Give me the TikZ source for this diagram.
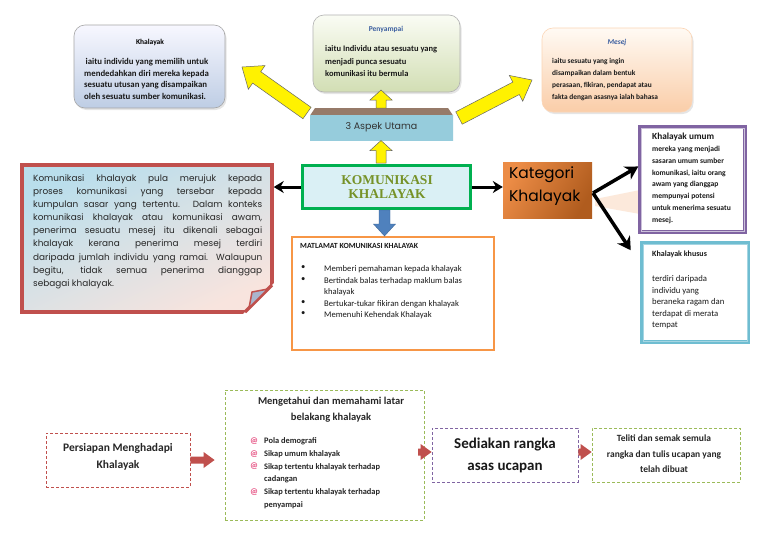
\documentclass[tikz,border=0pt]{standalone}
\usepackage{fontspec}
\setmainfont{Carlito}
\newfontfamily\gothic{Poppins}
\usetikzlibrary{calc,arrows.meta,shadows}
\definecolor{redb}{RGB}{192,80,77}
\definecolor{greenb}{RGB}{0,176,80}
\definecolor{olivet}{RGB}{118,146,40}
\definecolor{purb}{RGB}{128,100,162}
\definecolor{blueb}{RGB}{75,172,198}
\definecolor{orab}{RGB}{247,150,70}
\definecolor{bluearr}{RGB}{79,129,189}
\definecolor{titblue}{RGB}{60,95,160}
\definecolor{pinkb}{RGB}{230,80,130}
\definecolor{khbot}{RGB}{190,205,228}
\definecolor{pntop}{RGB}{250,252,244}
\definecolor{pnbot}{RGB}{210,222,180}
\definecolor{mstop}{RGB}{255,250,244}
\definecolor{msbot}{RGB}{250,205,168}
\definecolor{aspband}{RGB}{150,122,105}
\definecolor{aspblue}{RGB}{150,204,220}
\definecolor{asppeach}{RGB}{250,216,190}
\definecolor{komfill}{RGB}{218,240,245}
\definecolor{rbtop}{RGB}{185,222,236}
\definecolor{rbbot}{RGB}{248,228,222}
\definecolor{foldc}{RGB}{170,180,205}
\definecolor{katl}{RGB}{236,140,70}
\definecolor{katr}{RGB}{176,92,30}
\definecolor{beam}{RGB}{252,228,210}
\definecolor{greend}{RGB}{155,187,89}
\newcommand\fsz[2]{\fontsize{#1}{#2}\selectfont}
\newcommand\jl[1]{\makebox[229pt][s]{#1}}
% block arrow: #1 start, #2 end, #3 half shaft, #4 half head, #5 head length, #6 style
\newcommand\blockarrow[6]{%
  \coordinate (ba-h) at ($(#2)!#5!(#1)$);
  \path[#6] ($(#1)!#3!90:(#2)$) -- ($(ba-h)!#3!90:(#2)$) -- ($(ba-h)!#4!90:(#2)$) -- (#2)
    -- ($(ba-h)!#4!-90:(#2)$) -- ($(ba-h)!#3!-90:(#2)$) -- ($(#1)!#3!-90:(#2)$) -- cycle;}
\begin{document}
\begin{tikzpicture}[x=1pt,y=-1pt,
  txt/.style={inner sep=0pt, align=left, anchor=north west, text=black!90},
  tbox/.style={rounded corners=11pt, draw=#1, line width=0.6pt, inner sep=0pt,
     drop shadow={opacity=0.2,shadow xshift=1.5pt,shadow yshift=-2pt}},
  plain/.style={inner sep=0pt},
  yarr/.style={fill=yellow, draw=black!60, line width=0.5pt},
  blk/.style={line width=3pt, -{Stealth[length=10pt,width=12pt]}},
  blk2/.style={line width=3.5pt, -{Stealth[length=13pt,width=15pt]}},
  rarr/.style={fill=redb, draw=none},
  dbox/.style={draw=#1, line width=0.8pt, dash pattern=on 3pt off 2pt, inner sep=0pt},
]
\useasboundingbox (0,0) rectangle (768,544);
\fill[white] (0,0) rectangle (768,544);

% ---------- top three boxes ----------
\node[tbox=black!35, top color=blue!3, bottom color=khbot,
      minimum width=151, minimum height=83] (khbox) at (149.5,66.5) {};
\node[plain, font=\fsz{7.5}{8}\bfseries] (khtitle) at (150,42) {Khalayak};
\node[txt, font=\fsz{8.8}{11.4}\bfseries] (khbody) at (84,58.5)
  {\,iaitu individu yang memilih untuk\\mendedahkan diri mereka kepada\\sesuatu utusan yang disampaikan\\oleh sesuatu sumber komunikasi.};

\node[tbox=black!30, top color=pntop, bottom color=pnbot,
      minimum width=147, minimum height=77] (pnbox) at (386.5,53.5) {};
\node[plain, font=\fsz{7.5}{8}\bfseries, text=titblue] (pntitle) at (386,29) {Penyampai};
\node[txt, font=\fsz{8.5}{12.5}\bfseries] (pnbody) at (325,45.5)
  {iaitu Individu atau sesuatu yang\\menjadi punca sesuatu\\komunikasi itu bermula};

\node[tbox=orab!40, top color=mstop, bottom color=msbot,
      minimum width=150, minimum height=84] (msbox) at (617,70) {};
\node[plain, font=\fsz{7.5}{8}\bfseries\itshape, text=titblue] (mstitle) at (617,42) {Mesej};
\node[txt, font=\fsz{7.4}{12}\bfseries] (msbody) at (552,58)
  {iaitu sesuatu yang ingin\\disampaikan dalam bentuk\\perasaan, fikiran, pendapat atau\\fakta dengan asasnya ialah bahasa};

% ---------- 3 Aspek Utama ----------
\fill[aspband] (315,108) -- (448,108) -- (453,115.5) -- (310,115.5) -- cycle;
\node[plain, minimum width=143, minimum height=25, top color=aspblue,
      middle color=asppeach, bottom color=aspblue] (asp) at (381.5,127.5) {};
\node[plain, font=\gothic\fsz{9.5}{10}, text=black!80] (asptext) at (381.5,127.5) {3 Aspek Utama};

% ---------- central box ----------
\node[plain, draw=greenb, line width=3pt, fill=komfill,
      minimum width=168, minimum height=43] (kom) at (386.5,187) {};
\node[plain, align=center, font=\fontspec{Liberation Serif}\fsz{13.5}{14.5}\bfseries, text=olivet] (komtext) at (387,187)
  {KOMUNIKASI\\KHALAYAK};

% yellow arrows
\coordinate (y1a) at (381,163); \coordinate (y1b) at (381,140.5);
\coordinate (y2a) at (381,108); \coordinate (y2b) at (381,90);
\coordinate (y3a) at (307,113); \coordinate (y3b) at (242,67);
\coordinate (y4a) at (459,118); \coordinate (y4b) at (532,80);
\blockarrow{y1a}{y1b}{5pt}{11pt}{10pt}{yarr}
\blockarrow{y2a}{y2b}{5pt}{11pt}{10pt}{yarr}
\blockarrow{y3a}{y3b}{7pt}{14.5pt}{18pt}{yarr}
\blockarrow{y4a}{y4b}{7pt}{14.5pt}{18pt}{yarr}

% ---------- left red box ----------
\node[plain, draw=redb, line width=3.5pt, top color=rbtop,
      bottom color=rbbot, shading angle=25,
      minimum width=250, minimum height=147] (rb) at (147,238.5) {};
\fill[white] (274,283) -- (274,314) -- (243,314) -- cycle;
\draw[redb, line width=3.5pt, line join=round] (272,285) -- (245,312);
\filldraw[fill=foldc, draw=redb, line width=1.5pt, line join=round]
  (268,289) -- (249,308) -- (252,292) -- cycle;
\node[txt, font=\gothic\fsz{8.9}{13.1}, text=black!85] (rbtext) at (33,174.5)
  {\jl{Komunikasi khalayak pula merujuk kepada}\\
   \jl{proses komunikasi yang tersebar kepada}\\
   \jl{kumpulan sasar yang tertentu. Dalam konteks}\\
   \jl{komunikasi khalayak atau komunikasi awam,}\\
   \jl{penerima sesuatu mesej itu dikenali sebagai}\\
   \jl{khalayak kerana penerima mesej terdiri}\\
   \jl{daripada jumlah individu yang ramai. Walaupun}\\
   \jl{begitu, tidak semua penerima dianggap}\\
   sebagai khalayak.};

% ---------- Kategori ----------
\node[plain, minimum width=89, minimum height=56, left color=katl,
      right color=katr, shading angle=60] (kat) at (547.5,190) {};
\node[txt, font=\gothic\fsz{15.5}{23}, text=black] (kattext) at (509,166) {Kategori\\Khalayak};

% umum and khusus
\fill[beam, opacity=0.8] (595,199) -- (640,190) -- (640,214) -- (595,206) -- cycle;
\node[plain, draw=purb, line width=3.5pt, fill=white, minimum width=105, minimum height=105] (umum) at (692.5,179.5) {};
\draw[purb!40, line width=0.5pt] ($(umum.north west)+(3,3)$) rectangle ($(umum.south east)+(-3,-3)$);
\node[txt, font=\fsz{9.3}{10}\bfseries] (umtitle) at (652,133) {Khalayak umum};
\node[txt, font=\fsz{7.6}{11.7}\bfseries] (umbody) at (652,146.3)
  {mereka yang menjadi\\sasaran umum sumber\\komunikasi, iaitu orang\\awam yang dianggap\\mempunyai potensi\\untuk menerima sesuatu\\mesej.};

\node[plain, draw=blueb!80, line width=3.5pt, fill=white, minimum width=107, minimum height=99] (khs) at (695,292.5) {};
\draw[blueb!50, line width=0.5pt] ($(khs.north west)+(3,3)$) rectangle ($(khs.south east)+(-3,-3)$);
\node[txt, font=\fsz{8}{9}\bfseries] (kstitle) at (652,251) {Khalayak khusus};
\node[txt, font=\fsz{8.7}{11.5}] (ksbody) at (652,275.5)
  {terdiri daripada\\individu yang\\beraneka ragam dan\\terdapat di merata\\tempat};

\coordinate (katout) at (593,193);
\coordinate (umin) at ($(umum.north west)!0.38!(umum.south west)$);
\coordinate (ksin) at ($(khs.north west)+(-9,9)$);
\draw[blk2] (katout) -- (umin);
\draw[blk2] (katout) -- (ksin);

% black arrows from centre
\draw[blk] (kom.west) -- (kom.west -| rb.east);
\draw[blk] (kom.east) -- (kom.east -| kat.west);

% ---------- Matlamat ----------
\node[plain, draw=orab, line width=2pt, fill=white, minimum width=202, minimum height=113] (mat) at (393,293.5) {};
\node[txt, font=\fsz{7.8}{9}\bfseries] (mattitle) at (300,243) {MATLAMAT KOMUNIKASI KHALAYAK};
\node[txt, font=\fsz{8.6}{11.5}] (matbul) at (301,265.7) {•\\•\\\mbox{}\\•\\•};
\node[txt, font=\fsz{8.6}{11.5}] (matlist) at (324,265.7)
  {Memberi pemahaman kepada khalayak\\Bertindak balas terhadap maklum balas\\khalayak\\Bertukar-tukar fikiran dengan khalayak\\Memenuhi Kehendak Khalayak};

\coordinate (bA) at ($(kom.south)+(-2,0)$);
\coordinate (bB) at (bA |- mat.north);
\blockarrow{bA}{bB}{5.5pt}{11pt}{12pt}{fill=bluearr, draw=bluearr!80!black, line width=0.4pt}

% ---------- bottom row ----------
\node[dbox=redb, minimum width=144, minimum height=54] (pers) at (118,460) {};
\node[plain, align=center, font=\fsz{11.5}{17}\bfseries, text=black!85] (perstext) at (118,457)
  {Persiapan Menghadapi\\Khalayak};

\node[dbox=greend, minimum width=199, minimum height=130] (mg) at (324.5,455) {};
\node[plain, align=center, font=\fsz{10.5}{16}\bfseries, text=black!85] (mgtitle) at (331,409.5)
  {Mengetahui dan memahami latar\\belakang khalayak};
\node[txt, font=\fsz{8.8}{12.7}\bfseries, text=pinkb] (mgbul) at (250,437.5) {@\\@\\@\\\mbox{}\\@};
\node[txt, font=\fsz{8.4}{12.7}\bfseries, text=black!85] (mglist) at (264,437.5)
  {Pola demografi\\Sikap umum khalayak\\Sikap tertentu khalayak terhadap\\cadangan\\Sikap tertentu khalayak terhadap\\penyampai};

\node[dbox=purb, minimum width=146, minimum height=54] (sed) at (505,455) {};
\node[plain, align=center, font=\fsz{15}{22}\bfseries, text=black!90] (sedtext) at (505,455)
  {Sediakan rangka\\asas ucapan};

\node[dbox=greend, minimum width=148, minimum height=54] (tel) at (666,455) {};
\node[plain, align=center, font=\fsz{9.5}{15.5}\bfseries, text=black!85] (teltext) at (664,454)
  {Teliti dan semak semula\\rangka dan tulis ucapan yang\\telah dibuat};

\coordinate (r1a) at (pers.east);
\coordinate (r1b) at ($(mg.west |- pers.east)+(-10,0)$);
\blockarrow{r1a}{r1b}{3.5pt}{8pt}{11pt}{rarr}
\coordinate (r2a) at (418,452);
\coordinate (r2b) at (sed.west |- r2a);
\blockarrow{r2a}{r2b}{3.5pt}{8pt}{11pt}{rarr}
\coordinate (r3a) at (sed.east |- r2a);
\coordinate (r3b) at (tel.west |- r2a);
\blockarrow{r3a}{r3b}{3.5pt}{8pt}{11pt}{rarr}
\end{tikzpicture}
\end{document}
